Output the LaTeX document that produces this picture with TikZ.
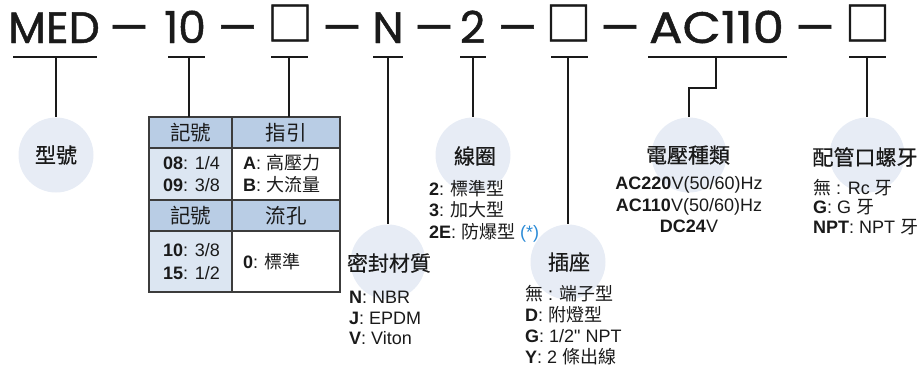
\documentclass[tikz,border=0pt]{standalone}
\usepackage{fontspec}
\setmainfont{Liberation Sans}
\newfontfamily\cjk{Noto Sans CJK TC}
\newfontfamily\cjkl[FakeBold=0.6]{Noto Sans CJK TC}
\newfontfamily\titlefont[FakeBold=1.1]{Poppins}
\newfontfamily\sqfont[FakeBold=1.3]{Noto Sans CJK TC}
\newcommand{\cj}[1]{{\cjk #1}}
\definecolor{ink}{HTML}{1A1A1A}
\definecolor{circfill}{HTML}{E7ECF5}
\definecolor{headfill}{HTML}{B9CDE5}
\definecolor{datafill}{HTML}{DCE6F2}
\definecolor{note}{HTML}{2A8AD6}
\begin{document}
\begin{tikzpicture}[x=1pt,y=-1pt,
  tok/.style={font=\titlefont\fontsize{44}{44}\selectfont, anchor=base, inner sep=0, text=ink},
  sq/.style={font=\sqfont\fontsize{46}{46}\selectfont, anchor=base, inner sep=0, text=ink},
  lbl/.style={font=\cjkl\fontsize{21}{24}\selectfont, inner sep=0, text=ink},
  hdr/.style={font=\cjk\fontsize{20.5}{24}\selectfont, inner sep=0, text=ink},
  item/.style={font=\fontsize{18}{21}\selectfont, anchor=base west, inner sep=0, text=ink},
  itemc/.style={font=\fontsize{18}{21}\selectfont, anchor=base, inner sep=0, text=ink},
  circ/.style={circle, fill=circfill, minimum size=75pt, inner sep=0},
  ln/.style={draw=ink, line width=1.3pt},
  tbl/.style={draw=ink!85, line width=1.4pt}]
\useasboundingbox (0,0) rectangle (921,368);
% title tokens
\node[tok] (med) at (54,43) {MED};
\node[tok] (d1) at (129,43) {—};
\node[tok] (ten) at (185,43) {10};
\node[tok] (d2) at (237.5,43) {—};
\node[sq] (s1) at (290,40.5) {□};
\node[tok] (d3) at (342,43) {—};
\node[tok] (n) at (388,43) {N};
\node[tok] (d4) at (434,43) {—};
\node[tok] (two) at (472.5,43) {2};
\node[tok] (d5) at (517.5,43) {—};
\node[sq] (s2) at (568.5,40.5) {□};
\node[tok] (d6) at (620,43) {—};
\node[tok] (ac) at (716.5,43) {\scalebox{1.13}[1]{AC110}};
\node[tok] (d7) at (815,43) {—};
\node[sq] (s3) at (867.5,40.5) {□};
% underlines
\coordinate (ul) at (0,57);
\draw[ln] (13,57) -- (97,57);
\draw[ln] (168,57) -- (205,57);
\draw[ln] (271,57) -- (308,57);
\draw[ln] (373,57) -- (403,57);
\draw[ln] (460,57) -- (486,57);
\draw[ln] (551,57) -- (588,57);
\draw[ln] (648,57) -- (787,57);
\draw[ln] (849,57) -- (886,57);
% circles
\node[circ] (c1) at (56,155) {};
\node[circ] (c2) at (388,262) {};
\node[circ] (c3) at (473,155) {};
\node[circ] (c4) at (568,262) {};
\node[circ] (c5) at (689,155) {};
\node[circ] (c6) at (867,155) {};
% table
\fill[headfill] (149,117) rectangle (340,148);
\fill[headfill] (149,200) rectangle (340,231);
\fill[datafill] (149,148) rectangle (232,200);
\fill[datafill] (149,231) rectangle (232,292);
\draw[tbl] (149,117) rectangle (340,292);
\draw[tbl] (232,117) -- (232,292);
\draw[tbl] (149,148) -- (340,148);
\draw[tbl] (149,200) -- (340,200);
\draw[tbl] (149,231) -- (340,231);
\coordinate (tt1) at (189,117);
\coordinate (tt2) at (289,117);
% connectors
\draw[ln] (ul -| c1) -- (c1.north);
\draw[ln] (ul -| tt1) -- (tt1);
\draw[ln] (ul -| tt2) -- (tt2);
\draw[ln] (ul -| c2) -- (c2.north);
\draw[ln] (ul -| c3) -- (c3.north);
\draw[ln] (ul -| c4) -- (c4.north);
\coordinate (k1) at (716,57);
\coordinate (k2) at (716,88);
\draw[ln] (k1) -- (k2) -- (k2 -| c5) -- (c5.north);
\draw[ln] (ul -| c6) -- (c6.north);
% circle labels
\node[lbl] (l1) at (56,155) {型號};
\node[lbl] (l2) at (389,263) {密封材質};
\node[lbl] (l3) at (475,156) {線圈};
\node[lbl] (l4) at (569,262) {插座};
\node[lbl] (l5) at (688,155) {電壓種類};
\node[lbl] (l6) at (865,157) {配管口螺牙};
% table text
\node[hdr] (h1) at (190.5,132.5) {記號};
\node[hdr] (h2) at (286,132.5) {指引};
\node[hdr] (h3) at (190.5,215.5) {記號};
\node[hdr] (h4) at (286,215.5) {流孔};
\node[item] (t1) at (163,169.5) {\textbf{08}: 1/4};
\node[item] (t2) at (163,191.5) {\textbf{09}: 3/8};
\node[item] (t3) at (243,169.5) {\textbf{A}: \cj{高壓力}};
\node[item] (t4) at (243,191.5) {\textbf{B}: \cj{大流量}};
\node[item] (t5) at (163,256.5) {\textbf{10}: 3/8};
\node[item] (t6) at (163,279.5) {\textbf{15}: 1/2};
\node[item] (t7) at (243,268.5) {\textbf{0}: \cj{標準}};
% seal list
\node[item] (a1) at (349,303.5) {\textbf{N}: NBR};
\node[item] (a2) at (349,324) {\textbf{J}: EPDM};
\node[item] (a3) at (349,344.5) {\textbf{V}: Viton};
% coil list
\node[item] (b1) at (429,195) {\textbf{2}: \cj{標準型}};
\node[item] (b2) at (429,216.5) {\textbf{3}: \cj{加大型}};
\node[item] (b3) at (429,238) {\textbf{2E}: \cj{防爆型} \textcolor{note}{(*)}};
% socket list
\node[item] (e1) at (525,300) {\cj{無} : \cj{端子型}};
\node[item] (e2) at (525,321) {\textbf{D}: \cj{附燈型}};
\node[item] (e3) at (525,342) {\textbf{G}: 1/2\textquotedbl{} NPT};
\node[item] (e4) at (525,363) {\textbf{Y}: 2 \cj{條出線}};
% voltage list
\node[itemc] (v1) at (689,189.5) {\textbf{AC220}V(50/60)Hz};
\node[itemc] (v2) at (689,211) {\textbf{AC110}V(50/60)Hz};
\node[itemc] (v3) at (689,232.5) {\textbf{DC24}V};
% thread list
\node[item] (p1) at (813,194) {\cj{無} : Rc \cj{牙}};
\node[item] (p2) at (813,213.5) {\textbf{G}: G \cj{牙}};
\node[item] (p3) at (813,233) {\textbf{NPT}: NPT \cj{牙}};
\end{tikzpicture}
\end{document}
